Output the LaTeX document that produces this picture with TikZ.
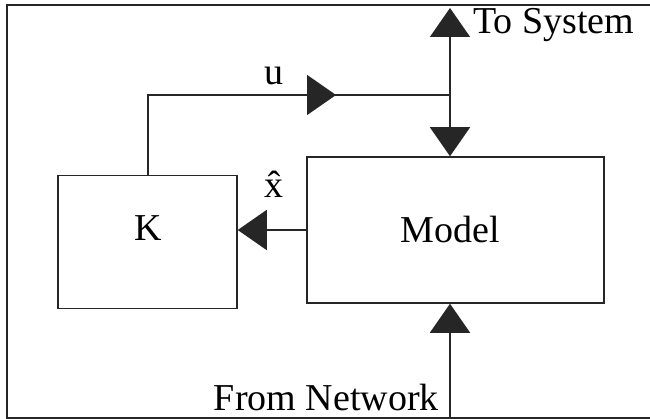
\documentclass[tikz,border=0pt]{standalone}
\usepackage{fontspec}
\setmainfont{Liberation Serif}
\usetikzlibrary{arrows.meta}
\begin{document}
\begin{tikzpicture}[x=1pt,y=-1pt,
  blk/.style={draw=black!85,line width=1.5pt,inner sep=0pt},
  wire/.style={draw=black!85,line width=1.5pt},
  arr/.style={wire,-{Triangle[length=29pt,width=40pt]}},
  lbl/.style={font=\fontsize{38}{42}\selectfont,inner sep=0pt},
  every node/.style={font=\fontsize{38}{42}\selectfont}]
\useasboundingbox (0,0) rectangle (650,419);
% frame (no right side)
\draw[draw=black!85,line width=2pt] (650,5.5) -- (7,5.5) -- (7,417.5) -- (650,417.5);
% blocks
\node[blk,minimum width=179pt,minimum height=133pt] (K) at (147.5,242) {};
\node[blk,minimum width=297pt,minimum height=146pt] (M) at (455.5,230) {};
\node[lbl,anchor=base] (Kt) at (148,241) {K};
\node[lbl,anchor=base] (Mt) at (450,243) {Model};
% coordinates
\coordinate (J) at (450,95);
\coordinate (C) at (148,95);
\coordinate (T) at (450,8);
\coordinate (B) at (450,417.5);
\coordinate (Mid) at (336,95);
% u loop
\draw[wire] (K.north -| C) -- (C) -- (Mid);
\draw[arr] (C) -- (Mid);
\draw[wire] (Mid) -- (J);
\draw[arr] (J) -- (T);
\draw[arr] (J) -- (J |- M.north);
% xhat
\draw[arr] (M.west |- 0,230) -- (K.east |- 0,230);
% from network
\draw[arr] (B) -- (B |- M.south);
% labels
\node[lbl,anchor=base] (u) at (274,85) {u};
\node[lbl,anchor=base] (xh) at (274,198) {\^{x}};
\node[lbl,anchor=base west] (ts) at (473,34) {To System};
\node[lbl,anchor=base east] (fn) at (439,410) {From Network};
\end{tikzpicture}
\end{document}
